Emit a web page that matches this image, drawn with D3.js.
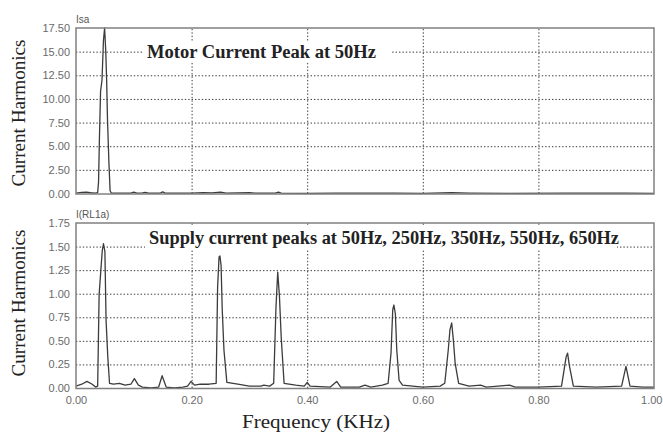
<!DOCTYPE html>
<html>
<head>
<meta charset="utf-8">
<script src="https://cdn.jsdelivr.net/npm/d3@7"></script>
<style>
  html, body { margin: 0; padding: 0; background: #fff; }
  svg { display: block; }
  .tick text { font-family: "Liberation Sans", Arial, sans-serif; font-size: 11px; fill: #6a6a6a; }
  .grid line { stroke: #3a3a3a; stroke-width: 1; stroke-dasharray: 1.4 2; }
  .grid path { display: none; }
</style>
</head>
<body>
<svg id="chart" width="663" height="435"></svg>
<script>
// Motor stator current spectrum (Isa), amplitude vs frequency in kHz
const isaFreq = [0.000, 0.010, 0.018, 0.025, 0.033, 0.0375, 0.039, 0.0405, 0.0425, 0.045, 0.0475, 0.0495,
  0.0515, 0.053, 0.0545, 0.057, 0.059, 0.061, 0.080, 0.095, 0.100, 0.105, 0.115, 0.120, 0.125, 0.145,
  0.150, 0.155, 0.200, 0.220, 0.235, 0.250, 0.260, 0.300, 0.310, 0.345, 0.350, 0.355, 0.400, 0.450,
  0.550, 0.600, 0.650, 0.680, 0.750, 0.850, 0.950, 1.000];
const isaAmp = [0.05, 0.12, 0.15, 0.08, 0.03, 0.10, 1.2, 5.8, 10.8, 12.0, 16.2, 17.5,
  15.0, 12.0, 7.8, 3.2, 0.3, 0.05, 0.05, 0.04, 0.15, 0.05, 0.06, 0.12, 0.04, 0.03,
  0.18, 0.03, 0.03, 0.10, 0.06, 0.15, 0.04, 0.10, 0.03, 0.05, 0.15, 0.03, 0.02, 0.05,
  0.05, 0.02, 0.10, 0.05, 0.02, 0.03, 0.03, 0.02];

// Supply current spectrum I(RL1a)
const rlFreq = [0.000, 0.010, 0.019, 0.028, 0.034, 0.0375, 0.040, 0.043, 0.0455, 0.0475, 0.050, 0.052,
  0.055, 0.058, 0.065, 0.075, 0.085, 0.095, 0.101, 0.108, 0.115, 0.130, 0.143, 0.149, 0.156, 0.170,
  0.185, 0.193, 0.199, 0.205, 0.215, 0.230, 0.2425, 0.245, 0.2475, 0.249, 0.251, 0.253, 0.256, 0.261,
  0.280, 0.300, 0.320, 0.325, 0.335, 0.342, 0.346, 0.349, 0.352, 0.355, 0.360, 0.380, 0.395, 0.400,
  0.405, 0.440, 0.451, 0.458, 0.490, 0.500, 0.510, 0.530, 0.540, 0.545, 0.548, 0.550, 0.5525, 0.555,
  0.559, 0.565, 0.600, 0.630, 0.638, 0.644, 0.647, 0.650, 0.653, 0.656, 0.662, 0.680, 0.700, 0.710,
  0.750, 0.760, 0.800, 0.840, 0.848, 0.8505, 0.8535, 0.8605, 0.900, 0.944, 0.9515, 0.9585, 0.980, 1.000];
const rlAmp = [0.02, 0.04, 0.07, 0.04, 0.01, 0.02, 0.99, 1.25, 1.46, 1.53, 1.45, 0.72,
  0.33, 0.05, 0.04, 0.05, 0.03, 0.04, 0.10, 0.03, 0.01, 0.00, 0.01, 0.13, 0.01, 0.00,
  0.01, 0.02, 0.07, 0.03, 0.04, 0.04, 0.05, 1.07, 1.39, 1.40, 1.30, 0.83, 0.40, 0.06,
  0.04, 0.02, 0.02, 0.03, 0.02, 0.05, 0.86, 1.23, 0.97, 0.54, 0.05, 0.03, 0.02, 0.06,
  0.02, 0.01, 0.07, 0.01, 0.01, 0.03, 0.01, 0.03, 0.05, 0.37, 0.83, 0.88, 0.79, 0.40,
  0.08, 0.03, 0.01, 0.02, 0.05, 0.40, 0.62, 0.69, 0.50, 0.26, 0.05, 0.02, 0.03, 0.01,
  0.03, 0.01, 0.01, 0.02, 0.33, 0.37, 0.24, 0.02, 0.01, 0.02, 0.23, 0.02, 0.01, 0.01];

// Tick values
const xTicks = [0, 0.2, 0.4, 0.6, 0.8, 1.0];
const isaTicks = [0, 2.5, 5, 7.5, 10, 12.5, 15, 17.5];
const rlTicks = [0, 0.25, 0.5, 0.75, 1.0, 1.25, 1.5, 1.75];

const svg = d3.select("#chart");
const left = 76, right = 654;

const x = d3.scaleLinear().domain([0, 1]).range([left, right]);

const panels = [
  { freq: isaFreq, amp: isaAmp, ticks: isaTicks, max: 17.5, top: 28, bottom: 193.5,
    name: "Isa", note: "Motor Current Peak at 50Hz", noteLen: 229,
    box: [143, 42, 249, 19], titleY: 113, showX: false },
  { freq: rlFreq, amp: rlAmp, ticks: rlTicks, max: 1.75, top: 223, bottom: 388,
    name: "I(RL1a)", note: "Supply current peaks at 50Hz, 250Hz, 350Hz, 550Hz, 650Hz", noteLen: 470,
    box: [145, 226, 472, 24], titleY: 303, showX: true }
];

panels.forEach(p => {
  const y = d3.scaleLinear().domain([0, p.max]).range([p.bottom, p.top]);
  const g = svg.append("g");

  // horizontal dotted grid
  g.append("g").attr("class", "grid")
    .attr("transform", `translate(${left},0)`)
    .call(d3.axisLeft(y).tickValues(p.ticks.slice(1, -1)).tickSize(-(right - left)).tickFormat(""));

  // vertical dotted grid
  g.append("g").attr("class", "grid")
    .attr("transform", `translate(0,${p.bottom})`)
    .call(d3.axisBottom(x).tickValues(xTicks.slice(1, -1)).tickSize(-(p.bottom - p.top)).tickFormat(""));

  // y tick labels
  const ya = g.append("g")
    .attr("transform", `translate(${left},0)`)
    .call(d3.axisLeft(y).tickValues(p.ticks).tickSize(0).tickPadding(6).tickFormat(d3.format(".2f")));
  ya.select(".domain").remove();

  // x tick labels; the last one is right-aligned so it stays inside the page
  if (p.showX) {
    const xa = g.append("g")
      .attr("transform", `translate(0,${p.bottom + 8})`)
      .call(d3.axisBottom(x).tickValues(xTicks).tickSize(0).tickPadding(0).tickFormat(d3.format(".2f")));
    xa.select(".domain").remove();
    xa.selectAll(".tick text")
      .filter(d => d === 1)
      .attr("text-anchor", "end")
      .attr("x", 662 - x(1));
  }

  // spectrum trace
  const pts = p.freq.map((f, i) => [f, p.amp[i]]);
  g.append("path")
    .datum(pts)
    .attr("fill", "none")
    .attr("stroke", "#3c3c3c")
    .attr("stroke-width", 1.3)
    .attr("stroke-linejoin", "round")
    .attr("d", d3.line().x(d => x(d[0])).y(d => y(d[1])));

  // frame
  g.append("rect")
    .attr("x", left).attr("y", p.top)
    .attr("width", right - left).attr("height", p.bottom - p.top + 0.5)
    .attr("fill", "none").attr("stroke", "#808080").attr("stroke-width", 1.5);

  // signal name
  g.append("text")
    .attr("x", left).attr("y", p.top - 5)
    .attr("font-family", "Liberation Sans, Arial, sans-serif")
    .attr("font-size", 10).attr("fill", "#555")
    .text(p.name);

  // annotation on white backing
  g.append("rect")
    .attr("x", p.box[0]).attr("y", p.box[1]).attr("width", p.box[2]).attr("height", p.box[3])
    .attr("fill", "#fff");
  g.append("text")
    .attr("x", p.box[0] + 4).attr("y", p.box[1] + p.box[3] / 2)
    .attr("dy", "0.36em")
    .attr("font-family", "Liberation Serif, Times New Roman, serif")
    .attr("font-weight", "bold").attr("font-size", 18).attr("fill", "#222")
    .attr("textLength", p.noteLen).attr("lengthAdjust", "spacingAndGlyphs")
    .text(p.note);

  // y axis title
  g.append("text")
    .attr("transform", `translate(25,${p.titleY}) rotate(-90)`)
    .attr("text-anchor", "middle")
    .attr("font-family", "Liberation Serif, Times New Roman, serif")
    .attr("font-size", 19).attr("fill", "#222")
    .attr("textLength", 147).attr("lengthAdjust", "spacingAndGlyphs")
    .text("Current Harmonics");
});

// x axis title
svg.append("text")
  .attr("x", 316).attr("y", 428)
  .attr("text-anchor", "middle")
  .attr("font-family", "Liberation Serif, Times New Roman, serif")
  .attr("font-size", 18).attr("fill", "#222")
  .attr("textLength", 148).attr("lengthAdjust", "spacingAndGlyphs")
  .text("Frequency (KHz)");
</script>
</body>
</html>
